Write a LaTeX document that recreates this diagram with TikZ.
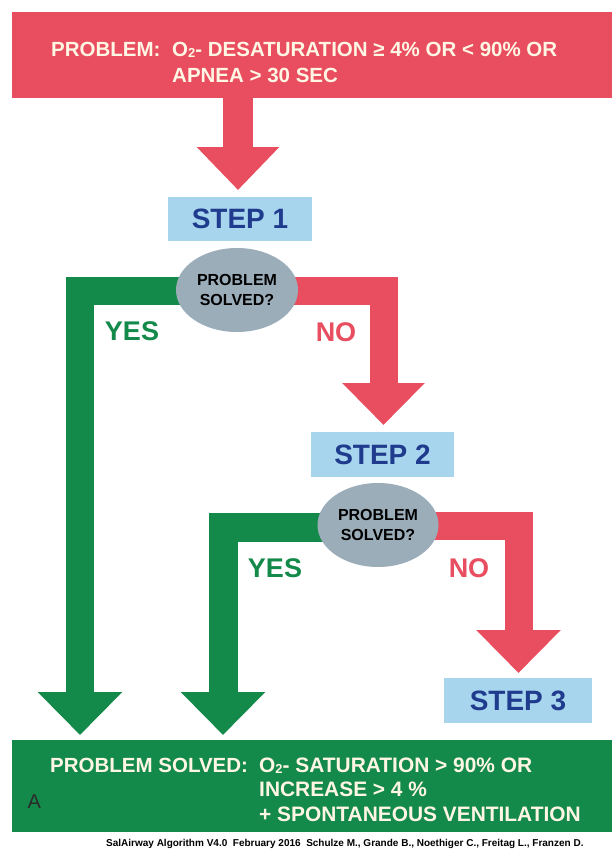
\documentclass[tikz,border=0pt]{standalone}
\usepackage{fontspec}
\setmainfont{Liberation Sans}
\usetikzlibrary{shapes.geometric,arrows.meta,calc}
\definecolor{pred}{HTML}{E84E5F}
\definecolor{pgreen}{HTML}{13894A}
\definecolor{pbox}{HTML}{A8D5EE}
\definecolor{pnavy}{HTML}{1F3B8D}
\definecolor{pgray}{HTML}{9CADBA}
\definecolor{pcream}{HTML}{FFF6E4}
\definecolor{pdark}{HTML}{2A2A2A}
\pgfdeclarelayer{back}
\pgfdeclarelayer{bands}
\pgfsetlayers{back,bands,main}
\newcommand\subtwo{\raisebox{-1pt}{\fontsize{13}{13}\selectfont 2}}
\begin{document}
\begin{tikzpicture}[x=1pt,y=-1pt,
  banner/.style={draw=none,inner sep=0,minimum width=600pt,anchor=north west},
  bantext/.style={inner sep=0,anchor=base west,text=pcream,font=\fontsize{20.5}{24}\selectfont\bfseries},
  stepbox/.style={fill=pbox,inner sep=0,text=pnavy,font=\fontsize{28}{30}\selectfont\bfseries},
  query/.style={ellipse,fill=pgray,inner sep=0,minimum width=122pt,minimum height=84pt,align=center,font=\fontsize{16}{19.5}\selectfont\bfseries},
  yeslabel/.style={text=pgreen,inner sep=0,font=\fontsize{27}{30}\selectfont\bfseries},
  nolabel/.style={text=pred,inner sep=0,font=\fontsize{27}{30}\selectfont\bfseries},
  band/.style={line width=28pt,line join=miter,-{Triangle[length=43pt,width=82pt]}},
  redband/.style={band,draw=pred},
  greenband/.style={band,draw=pgreen}
]
\begin{pgfonlayer}{back}
  \fill[white] (0,0) rectangle (612,855);
\end{pgfonlayer}
\useasboundingbox (0,0) rectangle (612,855);

% banners
\node[banner,fill=pred,minimum height=86pt] (prob) at (12,12) {};
\node[banner,fill=pgreen,minimum height=92pt] (solved) at (12,740) {};

\node[bantext] (pt1) at (51,56) {PROBLEM:};
\node[bantext] (pt2) at (172,56) {O\subtwo- DESATURATION ≥ 4\% OR < 90\% OR};
\node[bantext] (pt3) at (172,82) {APNEA > 30 SEC};

\node[bantext] (st1) at (50,772) {PROBLEM SOLVED:};
\node[bantext,font=\fontsize{20.9}{24}\selectfont\bfseries] (st2) at (259,772) {O\subtwo- SATURATION > 90\% OR};
\node[bantext,font=\fontsize{20.9}{24}\selectfont\bfseries] (st3) at (259,796) {INCREASE > 4 \%};
\node[bantext,font=\fontsize{20.9}{24}\selectfont\bfseries] (st4) at (259,821) {+ SPONTANEOUS VENTILATION};
\node[inner sep=0,anchor=base west,text=pdark,font=\fontsize{20}{22}\selectfont] (lblA) at (27.5,808) {A};

\node[inner sep=0,anchor=base west,text=black,font=\fontsize{10}{12}\selectfont\bfseries] (foot) at (106,846)
  {SalAirway Algorithm V4.0\ \ February 2016\ \ Schulze M., Grande B., Noethiger C., Freitag L., Franzen D.};

% steps
\node[stepbox,minimum width=144pt,minimum height=44pt] (step1) at (240,219) {STEP 1};
\node[stepbox,minimum width=143pt,minimum height=45pt] (step2) at (382.5,454.5) {STEP 2};
\node[stepbox,minimum width=148pt,minimum height=45pt] (step3) at (518,700.5) {STEP 3};

% decisions
\node[query] (q1) at (237,290) {PROBLEM\\SOLVED?};
\node[query,minimum width=121pt] (q2) at (378,525) {PROBLEM\\SOLVED?};

% labels
\node[yeslabel] (yes1) at (132,331) {YES};
\node[nolabel] (no1) at (336,332) {NO};
\node[yeslabel] (yes2) at (275,568) {YES};
\node[nolabel] (no2) at (469,568) {NO};

% arrow end points
\coordinate (tipA) at (238,190);
\coordinate (tipG1) at (80,735);
\coordinate (tipR1) at (383.5,425);
\coordinate (tipG2) at (223,735);
\coordinate (tipR2) at (518.5,673);

\begin{pgfonlayer}{bands}
  \draw[redband,line width=30pt,-{Triangle[length=43pt,width=80pt]}] (prob.south -| tipA) -- (tipA);
  \draw[greenband] ($(q1.center)+(0,1)$) -| (tipG1);
  \draw[redband,-{Triangle[length=42pt,width=80pt]}] ($(q1.center)+(0,1)$) -| (tipR1);
  \draw[greenband,line width=29pt] ($(q2.center)+(0,2.5)$) -| (tipG2);
  \draw[redband] ($(q2.center)+(0,1)$) -| (tipR2);
\end{pgfonlayer}
\end{tikzpicture}
\end{document}
